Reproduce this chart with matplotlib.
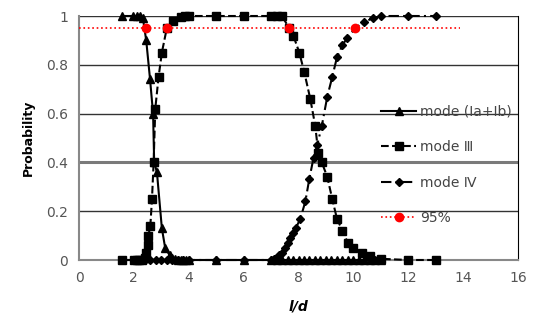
import matplotlib.pyplot as plt
import numpy as np

# mode (Ia+Ib) - triangles
x_tri = [1.57, 1.97, 2.11, 2.23, 2.33, 2.45, 2.59, 2.70, 2.74, 2.84, 3.02, 3.14,
         3.3, 3.4, 3.5, 3.6, 3.7, 3.8, 3.9, 4.0, 5.0, 6.0, 7.0, 7.2, 7.4, 7.6,
         7.8, 8.0, 8.2, 8.4, 8.6, 8.8, 9.0, 9.2, 9.4, 9.6, 9.8, 10.0, 10.2,
         10.4, 10.6, 10.8, 11.0]
y_tri = [1.0, 1.0, 1.0, 1.0, 0.99, 0.90, 0.74, 0.60, 0.40, 0.36, 0.13, 0.05,
         0.02, 0.01, 0.005, 0.0, 0.0, 0.0, 0.0, 0.0, 0.0, 0.0, 0.0, 0.0, 0.0, 0.0,
         0.0, 0.0, 0.0, 0.0, 0.0, 0.0, 0.0, 0.0, 0.0, 0.0, 0.0, 0.0, 0.0,
         0.0, 0.0, 0.0, 0.0]

# mode III - squares
x_sq = [1.57, 2.0, 2.1, 2.2, 2.3, 2.4, 2.45, 2.5, 2.53, 2.6, 2.66, 2.72, 2.78,
        2.9, 3.02, 3.2, 3.44, 3.7, 3.85, 4.0, 5.0, 6.0, 7.0, 7.2, 7.4, 7.66,
        7.81, 8.03, 8.21, 8.43, 8.61, 8.72, 8.85, 9.05, 9.23, 9.4, 9.6, 9.8,
        10.0, 10.3, 10.6, 11.0, 12.0, 13.0]
y_sq = [0.0, 0.0, 0.0, 0.0, 0.0, 0.01, 0.03, 0.06, 0.10, 0.14, 0.25, 0.40, 0.62,
        0.75, 0.85, 0.95, 0.98, 0.995, 1.0, 1.0, 1.0, 1.0, 1.0, 1.0, 1.0, 0.95,
        0.92, 0.85, 0.77, 0.66, 0.55, 0.44, 0.40, 0.34, 0.25, 0.17, 0.12, 0.07,
        0.05, 0.03, 0.015, 0.005, 0.0, 0.0]

# mode IV - diamonds
x_dia = [1.57, 2.0, 2.2, 2.4, 2.6, 2.8, 3.0, 3.2, 3.4, 3.6, 3.8, 4.0, 5.0, 6.0,
         7.0, 7.1, 7.2, 7.3, 7.4, 7.5, 7.6, 7.7, 7.8, 7.9, 8.07, 8.25, 8.39,
         8.55, 8.68, 8.85, 9.05, 9.23, 9.4, 9.6, 9.77, 10.07, 10.37, 10.7, 11.0,
         12.0, 13.0]
y_dia = [0.0, 0.0, 0.0, 0.0, 0.0, 0.0, 0.0, 0.0, 0.0, 0.0, 0.0, 0.0, 0.0, 0.0,
         0.0, 0.005, 0.01, 0.02, 0.03, 0.05, 0.07, 0.09, 0.11, 0.13, 0.17, 0.24, 0.33,
         0.42, 0.47, 0.55, 0.67, 0.75, 0.83, 0.88, 0.91, 0.95, 0.975, 0.99, 1.0,
         1.0, 1.0]

# 95% line
x_95 = [0.0, 2.43, 3.2, 7.66, 10.07, 13.9]
y_95 = [0.95, 0.95, 0.95, 0.95, 0.95, 0.95]

fig = plt.figure(figsize=(5.34, 3.24), dpi=100)
ax1 = fig.add_axes([79/534, 1-260/324, (518-79)/534, (260-16)/324])

for yv in [0.2, 0.6, 0.8, 1.0]:
    ax1.axhline(yv, color='#333333', lw=1.0, zorder=1)
ax1.axhline(0.4, color='#7a7a7a', lw=2.2, zorder=1)

ax1.plot(x_95, y_95, ':', color='red', lw=1.2, marker='o', ms=6,
         markevery=[1, 2, 3, 4], mfc='red', mec='red', label='95%', zorder=5)
ax1.plot(x_tri, y_tri, '-', color='black', lw=1.5, marker='^', ms=6,
         label='mode (Ia+Ib)', zorder=3, clip_on=False)
ax1.plot(x_sq, y_sq, '--', color='black', lw=1.5, marker='s', ms=5.5,
         label='mode Ⅲ', zorder=3, clip_on=False)
ax1.plot(x_dia, y_dia, '--', color='black', lw=1.5, marker='D', ms=4.5,
         dashes=(5, 2, 1, 2), label='mode Ⅳ', zorder=3, clip_on=False)

ax1.axis([0, 16, 0, 1])
ax1.set_xticks([0, 2, 4, 6, 8, 10, 12, 14, 16])
ax1.set_yticks([0, 0.2, 0.4, 0.6, 0.8, 1.0])
ax1.set_yticklabels(['0', '0.2', '0.4', '0.6', '0.8', '1'])
ax1.tick_params(length=0, labelsize=10, labelcolor='#555555', pad=8)

ax1.spines['top'].set_visible(False)
ax1.spines['right'].set_color('black')
ax1.spines['left'].set_color('#888888')
ax1.spines['bottom'].set_color('#888888')
ax1.spines['left'].set_linewidth(1.5)
ax1.spines['bottom'].set_linewidth(1.5)

ax1.set_xlabel('l/d', fontsize=10, fontweight='bold', fontstyle='italic',
               labelpad=10)
ax1.set_ylabel('Probability', fontsize=9, fontweight='bold', labelpad=8)

h, l = ax1.get_legend_handles_labels()
order = [1, 2, 3, 0]
ax1.legend([h[i] for i in order], [l[i] for i in order], loc='center left',
           bbox_to_anchor=(0.66, 0.39), frameon=False, fontsize=10,
           labelspacing=1.55, handlelength=2.5, handletextpad=0.3,
           labelcolor='#444444')

fig.savefig('out.png', dpi=100)
